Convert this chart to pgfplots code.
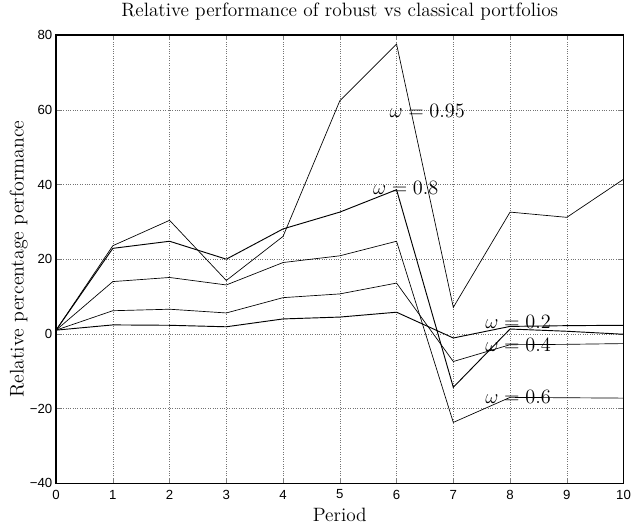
\documentclass[border=0pt]{standalone}
\usepackage{fontspec}
\usepackage{pgfplots}
\pgfplotsset{compat=1.18}
\newfontfamily\tickfont{Liberation Sans}

% Relative performance of robust portfolios, one series per omega
\pgfplotstableread{
x   w95   w80   w60    w40   w20
0   1.0   1.0   1.0    1.0   1.0
1   23.6  22.9  14.0   6.2   2.4
2   30.4  24.8  15.1   6.6   2.3
3   14.3  20.0  13.1   5.6   1.9
4   26.1  28.1  19.1   9.7   4.0
5   62.4  32.6  20.9   10.7  4.5
6   77.6  38.6  24.8   13.6  5.8
7   7.1   -14.3 -23.7  -7.4  -1.1
8   32.6  1.3   -17.0  -2.9  2.0
9   31.2  0.7   -17.1  -2.8  2.2
10  41.4  -0.1  -17.2  -2.6  2.3
}\perf

\begin{document}
\begin{tikzpicture}
\begin{axis}[
  scale only axis,
  width=335pt, height=264.6pt,
  xmin=0, xmax=10, ymin=-40, ymax=80,
  xtick={0,1,...,10}, ytick={-40,-20,...,80},
  yticklabels={−40,−20,0,20,40,60,80},
  tick align=inside, major tick length=3pt,
  grid=major, grid style={densely dotted, black!55, line width=0.3pt},
  axis line style={line width=0.8pt},
  /pgf/number format/assume math mode=true,
  tick label style={font=\tickfont\fontsize{7.8}{8}\selectfont, inner sep=0pt},
  xticklabel style={anchor=center, yshift=-6.6pt},
  yticklabel style={anchor=east, xshift=-2pt},
  every axis title shift=0pt,
  title={Relative performance of robust vs classical portfolios},
  title style={font=\fontsize{11.4}{13}\selectfont, anchor=center,
    at={(axis description cs:0.5,1.0514)}},
  xlabel={Period},
  xlabel style={font=\fontsize{11.4}{13}\selectfont, anchor=center,
    at={(axis description cs:0.5,-0.0707)}},
  ylabel={Relative percentage performance},
  ylabel style={font=\fontsize{11.7}{13}\selectfont, anchor=center,
    at={(axis description cs:-0.066,0.5)}},
  cycle list={{black, line width=0.55pt, mark=none}},
  clip=false,
]
\addplot table[x=x, y=w95] {\perf};
\addplot table[x=x, y=w80] {\perf};
\addplot table[x=x, y=w60] {\perf};
\addplot table[x=x, y=w40] {\perf};
\addplot table[x=x, y=w20] {\perf};

\begin{scope}[every node/.style={anchor=west, inner sep=0pt, font=\fontsize{11.7}{13}\selectfont}]
\node at (axis cs:5.87,59.6) {$\omega = 0.95$};
\node at (axis cs:5.58,39.1) {$\omega = 0.8$};
\node at (axis cs:7.56,3.1) {$\omega = 0.2$};
\node at (axis cs:7.56,-2.9) {$\omega = 0.4$};
\node at (axis cs:7.56,-16.9) {$\omega = 0.6$};
\end{scope}
\end{axis}
\pgfresetboundingbox
\useasboundingbox ([xshift=-33.1pt,yshift=-25.8pt]current axis.south west)
  rectangle ([xshift=4.4pt,yshift=20.7pt]current axis.north east);
\end{tikzpicture}
\end{document}
